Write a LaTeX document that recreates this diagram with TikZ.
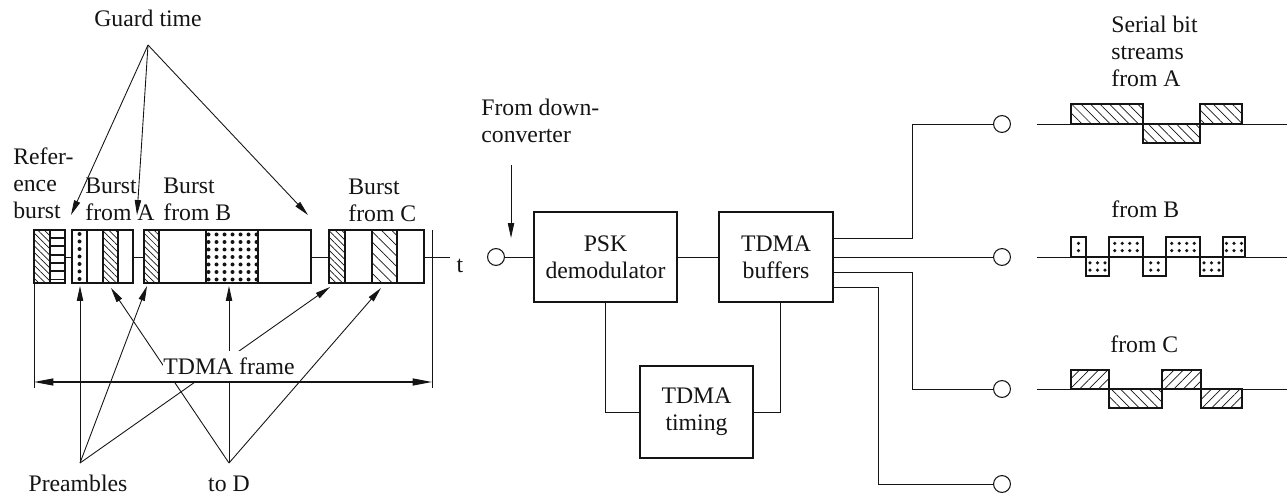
\documentclass[tikz,border=0pt]{standalone}
\usepackage{fontspec}
\setmainfont{Liberation Serif}
\usepackage{tikz}
\usetikzlibrary{
    arrows.meta,
    calc,
    patterns.meta,
    positioning
}
\definecolor{ink}{RGB}{20,20,20}
\newcommand{\labelfont}{\fontsize{13.5}{15.4}\selectfont}
\tikzset{
    wire/.style={
        draw=ink,
        line width=0.55pt
    },
    pointer/.style={
        draw=ink,
        line width=0.5pt,
        -{Triangle[length=8.5pt, width=3.6pt]}
    },
    span/.style={
        draw=ink,
        line width=0.6pt,
        {Triangle[length=11pt, width=4pt]}-{Triangle[length=11pt, width=4pt]}
    },
    slot/.style={
        draw=ink,
        line width=0.6pt
    },
    hatchfine/.style={
        slot,
        pattern color=ink,
        pattern={Lines[angle=-45, distance=2.6pt, line width=0.4pt]}
    },
    hatchwide/.style={
        slot,
        pattern color=ink,
        pattern={Lines[angle=-45, distance=4.2pt, line width=0.4pt]}
    },
    wavedown/.style={
        slot,
        pattern color=ink,
        pattern={Lines[angle=-45, distance=3.8pt, line width=0.4pt]}
    },
    waveup/.style={
        slot,
        pattern color=ink,
        pattern={Lines[angle=45, distance=3.8pt, line width=0.4pt]}
    },
    block/.style={
        rectangle,
        draw=ink,
        line width=0.6pt,
        fill=white,
        align=center,
        inner sep=0pt
    },
    port/.style={
        circle,
        draw=ink,
        line width=0.6pt,
        fill=white,
        minimum size=9.6pt,
        inner sep=0pt
    },
    caption/.style={
        align=left,
        inner sep=0pt,
        anchor=north west
    },
    tag/.style={
        inner sep=0pt,
        anchor=base
    }
}

\begin{document}
\begin{tikzpicture}[
    x=0.02cm,
    y=-0.02cm,
    every node/.style={font=\labelfont, text=ink}
]
\useasboundingbox (0,0) rectangle (1287,496);

% Time axis between the bursts
\draw[wire] (65,257) -- (72,257) (133,257) -- (144,257)
    (311,257) -- (329,257) (424,257) -- (450,257);
\node[tag] (taxis) at (460,273) {t};

% Reference burst
\draw[hatchfine] (34,230) rectangle (50,283);
\draw[slot] (50,230) rectangle (65,283);
\foreach \k in {0,...,5}
    \draw[ink, line width=1.1pt] (50,{238+\k*8.3}) -- (65,{238+\k*8.3});

% Burst from A
\draw[slot] (72,230) rectangle (133,283);
\draw[slot] (72,230) rectangle (87,283);
\foreach \k in {0,...,6}
    \fill[ink] (79.5,{234+\k*7.5}) circle (2);
\draw[hatchfine] (103,230) rectangle (118,283);

% Burst from B
\draw[slot] (144,230) rectangle (311,283);
\draw[hatchfine] (144,230) rectangle (159,283);
\draw[slot] (206,230) rectangle (258,283);
\foreach \i in {0,...,6}
    \foreach \k in {0,...,6}
        \fill[ink] ({208.5+\i*8},{234.5+\k*7.5}) circle (2);

% Burst from C
\draw[slot] (329,230) rectangle (424,283);
\draw[hatchfine] (329,230) rectangle (345,283);
\draw[hatchwide] (372,230) rectangle (397,283);

% Frame limits
\draw[wire] (34,283) -- (34,388);
\draw[wire] (432,230) -- (432,388);

% Burst captions
\node[caption] (reflbl) at (13,147) {Refer-\\ence\\burst};
\node[caption] (burstA) at (85,178) {Burst\\from A};
\node[caption] (burstB) at (163,178) {Burst\\from B};
\node[caption] (burstC) at (348,179) {Burst\\from C};

% Guard time pointers
\node[tag] (guard) at (148,27) {Guard time};
\coordinate (guardapex) at (148,45);
\coordinate (gapA) at (71,215);
\coordinate (gapB) at (137,215);
\coordinate (gapC) at (308,215);
\foreach \g in {gapA,gapB,gapC}
    \draw[pointer] (guardapex) -- (\g);

% Preamble and to-D pointers
\node[tag] (preamb) at (78,491) {Preambles};
\node[tag] (tod) at (229,491) {to D};
\coordinate (preapex) at (80,463);
\coordinate (todapex) at (229,463);
\coordinate (preA) at (80,286);
\coordinate (preB) at (147,286);
\coordinate (preC) at (330,287);
\coordinate (dataA) at (111,288);
\coordinate (dataB) at (229,286);
\coordinate (dataC) at (381,288);
\foreach \p in {preA,preB,preC}
    \draw[pointer] (preapex) -- (\p);
\foreach \p in {dataA,dataB,dataC}
    \draw[pointer] (todapex) -- (\p);

% TDMA frame span
\node[tag, fill=white, inner ysep=4pt, text height=9.1pt, text depth=0pt] (frame) at (229,374) {TDMA frame};
\coordinate (frameL) at (34,382);
\coordinate (frameR) at (432,382);
\draw[span] (frameL) -- (frameR);

% Receiver chain
\node[caption] (dclabel) at (481,99) {From down-\\converter};
\coordinate (dctop) at (511,165);
\coordinate (dctip) at (511,238);
\draw[pointer] (dctop) -- (dctip);

\node[port] (inport) at (496,257) {};
\node[block, minimum width=2.86cm, minimum height=1.8cm] (psk) at (605.5,257) {PSK\\demodulator};
\node[block, minimum width=2.28cm, minimum height=1.8cm] (buffers) at (776,257) {TDMA\\buffers};
\node[block, minimum width=2.26cm, minimum height=1.84cm] (timing) at (696.5,412) {TDMA\\timing};

\draw[wire] (inport) -- (psk);
\draw[wire] (psk) -- (buffers);
\draw[wire] (psk.south) |- (timing.west);
\draw[wire] ([xshift=0.08cm]buffers.south) |- (timing.east);

% Outputs of the buffers
\node[port] (portA) at (1002,124) {};
\node[port] (portB) at (1002,257) {};
\node[port] (portC) at (1002,389) {};
\node[port] (portD) at (1002,484) {};
\path (buffers.east) ++(0,-19) coordinate (outA);
\path (buffers.east) ++(0,15) coordinate (outC);
\path (buffers.east) ++(0,30) coordinate (outD);
\draw[wire] (outA) -- ++(79,0) |- (portA);
\draw[wire] (buffers.east) -- (portB);
\draw[wire] (outC) -- ++(79,0) |- (portC);
\draw[wire] (outD) -- ++(45,0) |- (portD);

% Serial bit streams
\node[caption] (streams) at (1111,16) {Serial bit\\streams\\from A};
\draw[wire] (1037,124) -- (1287,124);
\draw[wavedown] (1071,104) rectangle (1143,124);
\draw[wavedown] (1143,124) rectangle (1200,143);
\draw[wavedown] (1200,104) rectangle (1242,124);

\node[tag, anchor=base west] (fromB) at (1111,218) {from B};
\draw[wire] (1037,257) -- (1287,257);
\foreach \xa/\xb/\ya/\yb/\n in {1071/1086/237/257/1, 1086/1109/257/276/3,
        1109/1143/237/257/4, 1143/1166/257/276/2, 1166/1200/237/257/4,
        1200/1223/257/276/3, 1223/1245/237/257/3} {
    \draw[slot, fill=white] (\xa,\ya) rectangle (\xb,\yb);
    \foreach \i in {1,...,\n}
        \foreach \dy in {-1,1}
            \fill[ink] ({(\xa+\xb)/2+(\i-(\n+1)/2)*7.5},{(\ya+\yb)/2+\dy*3.6}) circle (1.8);
}

\node[tag, anchor=base west] (fromC) at (1110,352) {from C};
\draw[wire] (1037,389) -- (1287,389);
\draw[waveup] (1071,370) rectangle (1109,389);
\draw[wavedown] (1109,389) rectangle (1162,408);
\draw[waveup] (1162,370) rectangle (1201,389);
\draw[waveup] (1201,389) rectangle (1242,408);

\end{tikzpicture}
\end{document}
